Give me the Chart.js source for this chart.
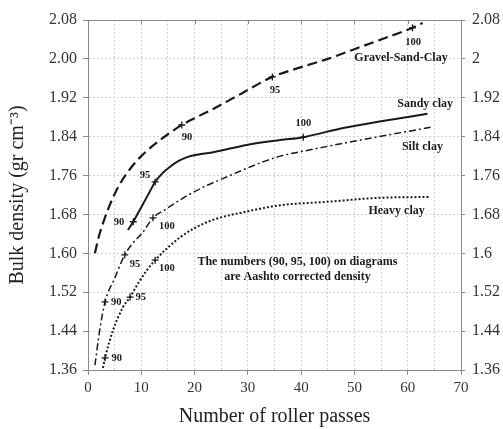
<!DOCTYPE html>
<html>
<head>
<meta charset="utf-8">
<script src="https://cdn.jsdelivr.net/npm/chart.js@4/dist/chart.umd.min.js"></script>
<style>
  html, body { margin: 0; padding: 0; background: #fff; }
  #wrap { width: 503px; height: 429px; }
</style>
</head>
<body>
<div id="wrap"><canvas id="c"></canvas></div>
<script>
// Courbes densité / nombre de passes de rouleau
const INK = '#1a1a1a';
const AXIS = '#8a8a8a';
const GRID = '#d2d2d2';
const SERIF = "'Liberation Serif', 'Times New Roman', serif";

// axes
const xGridValues = [0, 5, 10, 15, 20, 25, 30, 35, 40, 45, 50, 55, 60, 65, 70];
const xTopTicks = [10, 20, 30, 40, 50, 60];
const yTickValues = [1.36, 1.44, 1.52, 1.60, 1.68, 1.76, 1.84, 1.92, 2.00, 2.08];

// Gravel-Sand-Clay
const gscX = [1.3, 2, 3, 4, 5, 6, 8, 10, 12, 15, 17.6, 20, 23.5, 29, 34.6, 40, 45, 50, 55, 60.9, 62.8];
const gscY = [1.600, 1.633, 1.668, 1.697, 1.722, 1.743, 1.775, 1.800, 1.820, 1.845, 1.864, 1.878, 1.897, 1.930, 1.963, 1.983, 2.000, 2.020, 2.040, 2.064, 2.074];
// Sandy clay
const sandyX = [7.5, 8.5, 10, 11.5, 12.6, 14, 15.4, 17, 18.6, 21, 23.5, 29.8, 36.1, 40.4, 47.9, 56.2, 63.7];
const sandyY = [1.648, 1.665, 1.695, 1.725, 1.747, 1.765, 1.778, 1.790, 1.798, 1.804, 1.808, 1.823, 1.833, 1.839, 1.858, 1.874, 1.887];
// Silt clay
const siltX = [1.3, 2.2, 3.2, 5.1, 6.9, 8.5, 10.2, 12.2, 14.5, 17.3, 20, 22.4, 26, 32.3, 36.1, 41.7, 51.1, 64.7];
const siltY = [1.370, 1.442, 1.500, 1.551, 1.597, 1.622, 1.642, 1.673, 1.690, 1.710, 1.727, 1.740, 1.757, 1.786, 1.800, 1.813, 1.833, 1.860];
// Heavy clay
const heavyX = [2.8, 3.2, 4.7, 6.6, 7.9, 9.5, 11.1, 12.6, 15, 17.3, 20, 23.5, 29.8, 36.1, 44.9, 54.3, 63.9];
const heavyY = [1.364, 1.385, 1.442, 1.490, 1.510, 1.540, 1.566, 1.586, 1.612, 1.633, 1.652, 1.669, 1.686, 1.699, 1.706, 1.714, 1.716];

// points 90 / 95 / 100 (Aashto)
const markX = [17.6, 34.6, 60.9, 8.5, 12.6, 40.4, 3.2, 6.9, 12.2, 3.2, 7.9, 12.6];
const markY = [1.864, 1.963, 2.064, 1.665, 1.747, 1.839, 1.500, 1.597, 1.673, 1.385, 1.510, 1.586];
const markText = ['90', '95', '100', '90', '95', '100', '90', '95', '100', '90', '95', '100'];
const markTextX = [18.6, 35.1, 61.0, 5.8, 10.7, 40.4, 5.3, 8.8, 14.8, 5.4, 9.9, 14.8];
const markTextY = [1.839, 1.936, 2.035, 1.664, 1.761, 1.868, 1.500, 1.578, 1.656, 1.385, 1.510, 1.570];

// noms des courbes (alignés à droite)
const seriesNames = ['Gravel-Sand-Clay', 'Sandy clay', 'Silt clay', 'Heavy clay'];
const seriesNameX = [67.5, 68.5, 66.6, 63.2];
const seriesNameY = [2.002, 1.907, 1.819, 1.687];

// note
const noteLines = ['The numbers (90, 95, 100) on diagrams', 'are Aashto corrected density'];
const noteX = 39.3;
const noteY = [1.582, 1.551];

const pts = (xs, ys) => xs.map((x, i) => ({ x, y: ys[i] }));

function curve(label, xs, ys, dash, width) {
  return {
    label,
    data: pts(xs, ys),
    borderColor: INK,
    borderWidth: width,
    borderDash: dash,
    pointRadius: 0,
    fill: false,
    cubicInterpolationMode: 'monotone'
  };
}

const textPlugin = {
  id: 'texts',
  afterDatasetsDraw(chart) {
    const { ctx, scales: { x, y } } = chart;
    ctx.save();
    ctx.fillStyle = INK;
    ctx.textBaseline = 'middle';

    ctx.font = `bold 10.5px ${SERIF}`;
    ctx.textAlign = 'center';
    markText.forEach((t, i) => {
      ctx.fillText(t, x.getPixelForValue(markTextX[i]), y.getPixelForValue(markTextY[i]));
    });

    ctx.font = `bold 12px ${SERIF}`;
    ctx.textAlign = 'right';
    seriesNames.forEach((t, i) => {
      ctx.fillText(t, x.getPixelForValue(seriesNameX[i]), y.getPixelForValue(seriesNameY[i]));
    });

    ctx.textAlign = 'center';
    noteLines.forEach((t, i) => {
      ctx.fillText(t, x.getPixelForValue(noteX), y.getPixelForValue(noteY[i]));
    });

    // petits ticks intérieurs en haut
    ctx.strokeStyle = AXIS;
    ctx.lineWidth = 1;
    const top = chart.chartArea.top;
    xTopTicks.forEach(v => {
      const px = Math.round(x.getPixelForValue(v)) + 0.5;
      ctx.beginPath();
      ctx.moveTo(px, top);
      ctx.lineTo(px, top + 4);
      ctx.stroke();
    });
    ctx.restore();
  }
};

new Chart(document.getElementById('c'), {
  type: 'line',
  data: {
    datasets: [
      curve('Gravel-Sand-Clay', gscX, gscY, [10, 5], 2.2),
      curve('Sandy clay', sandyX, sandyY, [], 2),
      curve('Silt clay', siltX, siltY, [7, 3, 2, 3], 1.5),
      curve('Heavy clay', heavyX, heavyY, [2, 2], 2),
      {
        label: 'marks',
        data: pts(markX, markY),
        showLine: false,
        pointStyle: 'cross',
        pointRadius: 3.5,
        pointBorderWidth: 1.3,
        pointBorderColor: INK
      }
    ]
  },
  options: {
    responsive: true,
    maintainAspectRatio: false,
    animation: false,
    layout: { padding: 0 },
    plugins: { legend: { display: false }, tooltip: { enabled: false } },
    scales: {
      x: {
        type: 'linear', position: 'bottom', min: 0, max: 70,
        afterBuildTicks: s => { s.ticks = xGridValues.map(v => ({ value: v })); },
        afterFit: s => { s.height = 59; },
        ticks: {
          autoSkip: false, maxRotation: 0, padding: 4, color: '#333',
          font: { family: SERIF, size: 15 },
          callback: v => (v % 10 === 0 ? v : '')
        },
        grid: {
          color: GRID, tickLength: 5,
          tickColor: c => (c.tick && c.tick.value % 10 === 0 ? AXIS : 'rgba(0,0,0,0)')
        },
        border: { color: AXIS, dash: [2, 2] },
        title: {
          display: true, text: 'Number of roller passes', color: '#222',
          font: { family: SERIF, size: 20 }, padding: { top: 0, bottom: 0 }
        }
      },
      x2: {
        type: 'linear', position: 'top', min: 0, max: 70,
        afterFit: s => { s.height = 20; },
        ticks: { display: false },
        grid: { drawOnChartArea: false, drawTicks: false },
        border: { color: AXIS }
      },
      y: {
        type: 'linear', position: 'left', min: 1.36, max: 2.08,
        afterBuildTicks: s => { s.ticks = yTickValues.map(v => ({ value: v })); },
        afterFit: s => { s.width = 88; },
        ticks: {
          padding: 6, color: '#333',
          font: { family: SERIF, size: 16 },
          callback: v => v.toFixed(2)
        },
        grid: { color: GRID, tickLength: 5, tickColor: AXIS },
        border: { color: AXIS, dash: [2, 2] },
        title: {
          display: true, text: 'Bulk density (gr cm⁻³)', color: '#222',
          font: { family: SERIF, size: 20 }, padding: { top: 6, bottom: 0 }
        }
      },
      y2: {
        type: 'linear', position: 'right', min: 1.36, max: 2.08,
        afterBuildTicks: s => { s.ticks = yTickValues.map(v => ({ value: v })); },
        afterFit: s => { s.width = 42; },
        ticks: {
          padding: 7, color: '#333',
          font: { family: SERIF, size: 16 },
          callback: v => String(+v.toFixed(2))
        },
        grid: { drawOnChartArea: false, tickLength: 4, tickColor: AXIS },
        border: { color: AXIS }
      }
    }
  },
  plugins: [textPlugin]
});
</script>
</body>
</html>
